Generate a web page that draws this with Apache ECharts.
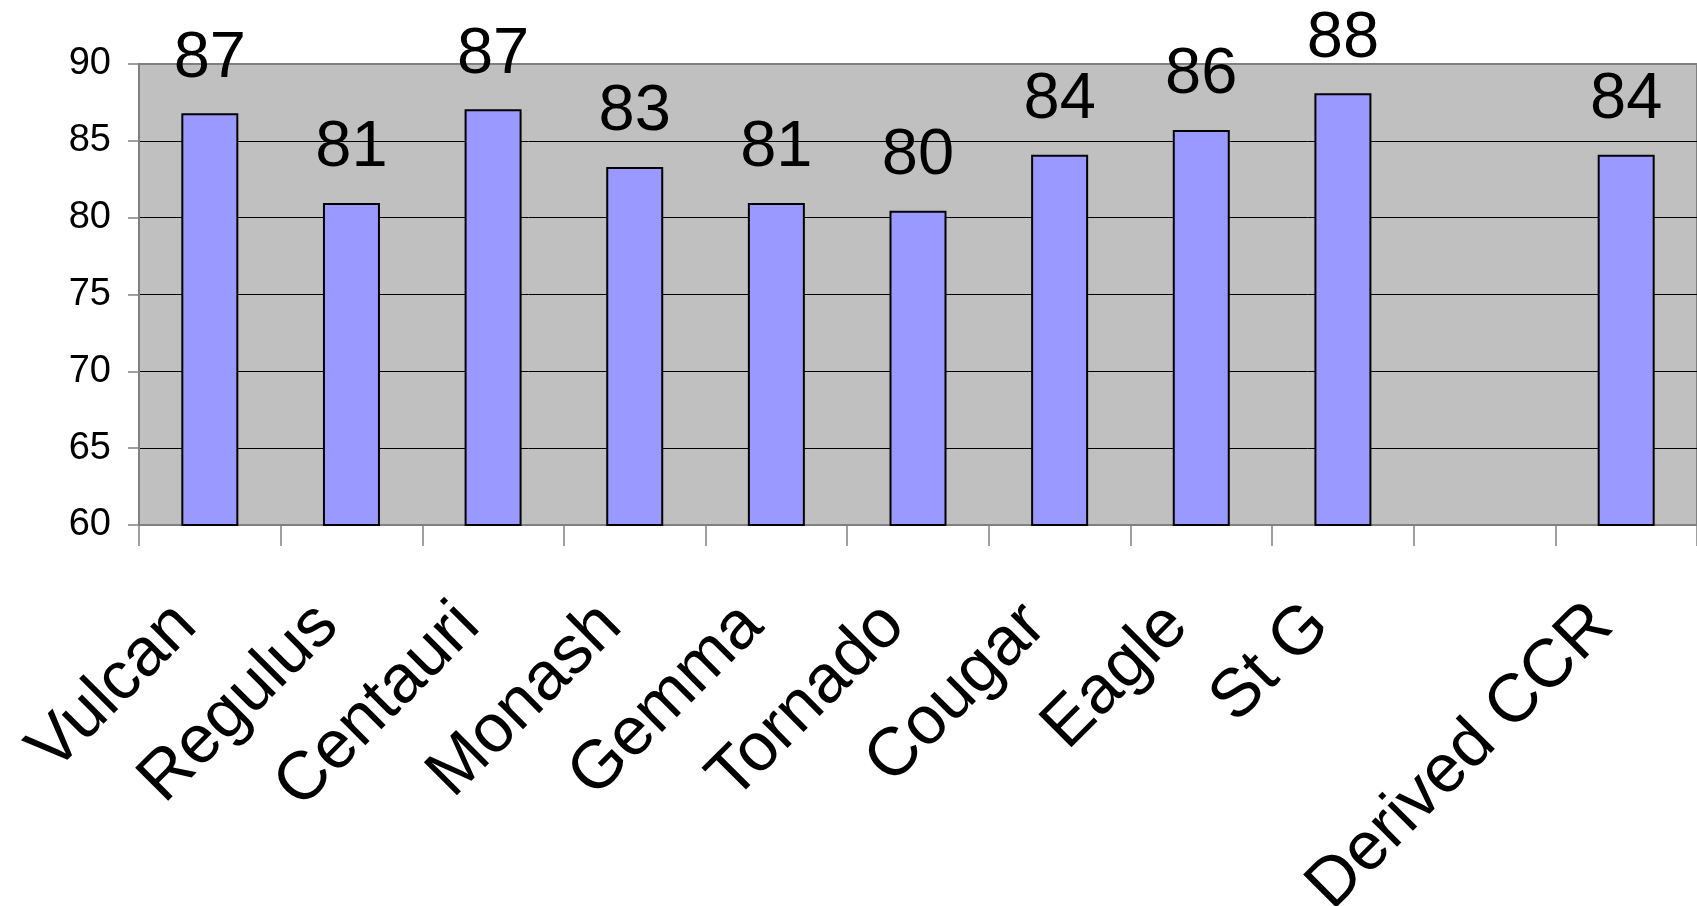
<!DOCTYPE html>
<html>
<head>
<meta charset="utf-8">
<script src="https://cdn.jsdelivr.net/npm/echarts@6/dist/echarts.min.js"></script>
<style>
  html, body { margin: 0; padding: 0; background: #fff; }
  #main { width: 1697px; height: 906px; }
</style>
</head>
<body>
<div id="main"></div>
<script>
// categories (the blank one is the empty slot before Derived CCR)
var categories = ['Vulcan', 'Regulus', 'Centauri', 'Monash', 'Gemma', 'Tornado',
                  'Cougar', 'Eagle', 'St G', '', 'Derived CCR'];
var scores = [86.8, 80.95, 87.05, 83.3, 80.95, 80.45, 84.1, 85.7, 88.1, null, 84.1];
var yTicks = [60, 65, 70, 75, 80, 85, 90];

var font = "'Liberation Sans', Arial, sans-serif";
var myChart = echarts.init(document.getElementById('main'));

var option = {
    animation: false,
    textStyle: { fontFamily: font },
    grid: {
        left: 139,
        right: 0,
        top: 64,
        bottom: 381,
        outerBoundsMode: 'none',
        show: true,
        backgroundColor: '#c0c0c0',
        borderColor: '#808080',
        borderWidth: 2
    },
    xAxis: {
        type: 'category',
        data: categories,
        axisLine: { lineStyle: { color: '#808080', width: 2 } },
        axisTick: { show: true, length: 21, interval: 0, lineStyle: { color: '#808080', width: 1.5 } },
        axisLabel: {
            interval: 0,
            rotate: 45,
            margin: 66,
            padding: [0, 34, 0, 0],
            color: '#000',
            fontSize: 68,
            fontFamily: font
        }
    },
    yAxis: {
        type: 'value',
        min: yTicks[0],
        max: yTicks[yTicks.length - 1],
        interval: 5,
        axisLine: { show: true, lineStyle: { color: '#808080', width: 2 } },
        axisTick: { show: true, length: 11, lineStyle: { color: '#808080', width: 1.5 } },
        axisLabel: { margin: 28, color: '#000', fontSize: 38, fontFamily: font },
        splitLine: {
            show: true,
            lineStyle: { color: ['#808080', '#000', '#000', '#000', '#000', '#000', '#808080'], width: 1 }
        }
    },
    series: [{
        type: 'bar',
        data: scores,
        barWidth: 57,
        itemStyle: { color: '#9999ff', borderColor: '#000', borderWidth: 2 },
        label: {
            show: true,
            position: 'top',
            distance: 22,
            color: '#000',
            fontSize: 65,
            fontFamily: font,
            formatter: function (p) { return Math.round(p.value); }
        }
    }]
};

myChart.setOption(option);
</script>
</body>
</html>
